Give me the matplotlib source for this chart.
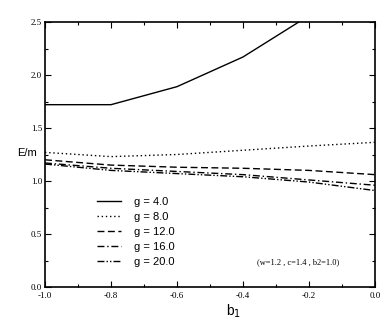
import numpy as np
import matplotlib
matplotlib.use("Agg")
import matplotlib.pyplot as plt
from matplotlib.ticker import MultipleLocator, FormatStrFormatter

# b1 values and E/m for each coupling g
b1 = [-1.0, -0.8, -0.6, -0.4, -0.2, 0.0]
E_g4 = [1.72, 1.72, 1.89, 2.17, 2.56, 3.00]
E_g8 = [1.27, 1.23, 1.25, 1.29, 1.33, 1.365]
E_g12 = [1.20, 1.15, 1.13, 1.12, 1.10, 1.06]
E_g16 = [1.17, 1.12, 1.09, 1.06, 1.01, 0.96]
E_g20 = [1.16, 1.10, 1.07, 1.04, 0.99, 0.91]

series = [
    (E_g4, "g = 4.0", "-"),
    (E_g8, "g = 8.0", (0, (1, 2))),
    (E_g12, "g = 12.0", (0, (5, 2.5))),
    (E_g16, "g = 16.0", (0, (5, 2, 1, 2))),
    (E_g20, "g = 20.0", (0, (5, 1.5, 1, 1.5, 1, 1.5))),
]

fig = plt.figure(figsize=(3.82, 3.27), dpi=100)
ax = fig.add_axes([45/382, 40/327, 330/382, 265/327])

for y, lab, ls in series:
    ax.plot(b1, y, color="black", linestyle=ls, linewidth=1.0, label=lab)

ax.set_xlim(-1.0, 0.0)
ax.set_ylim(0.0, 2.5)

ax.xaxis.set_major_locator(MultipleLocator(0.2))
ax.xaxis.set_minor_locator(MultipleLocator(0.1))
ax.yaxis.set_major_locator(MultipleLocator(0.5))
ax.yaxis.set_minor_locator(MultipleLocator(0.25))
ax.xaxis.set_major_formatter(FormatStrFormatter("%.1f"))
ax.yaxis.set_major_formatter(FormatStrFormatter("%.1f"))

ax.tick_params(which="both", direction="in", top=True, right=True, width=0.8)
ax.tick_params(which="major", length=4.5, pad=2)
ax.tick_params(axis="x", which="major", pad=3.5)
ax.tick_params(which="minor", length=2.2)
for lbl in ax.get_xticklabels() + ax.get_yticklabels():
    lbl.set_family("Liberation Serif")
    lbl.set_fontsize(6.5)
for sp in ax.spines.values():
    sp.set_linewidth(1.2)

fig.text(17/382, 1 - 153/327, "E/m", fontsize=8, family="Liberation Sans",
         ha="left", va="center")
fig.text(226/382, 1 - 311/327, "b$_1$", fontsize=10, family="Liberation Sans",
         ha="left", va="center")

ax.text(-0.233, 0.236, "(w=1.2 , c=1.4 , b2=1.0)", fontsize=6,
        family="Liberation Serif", ha="center", va="center")

leg = ax.legend(loc="upper left", bbox_to_anchor=(0.126, 0.376), frameon=False,
                prop={"family": "Liberation Sans", "size": 8},
                handlelength=2.2, handletextpad=1.2, labelspacing=0.44)

fig.savefig("out.png", dpi=100)
